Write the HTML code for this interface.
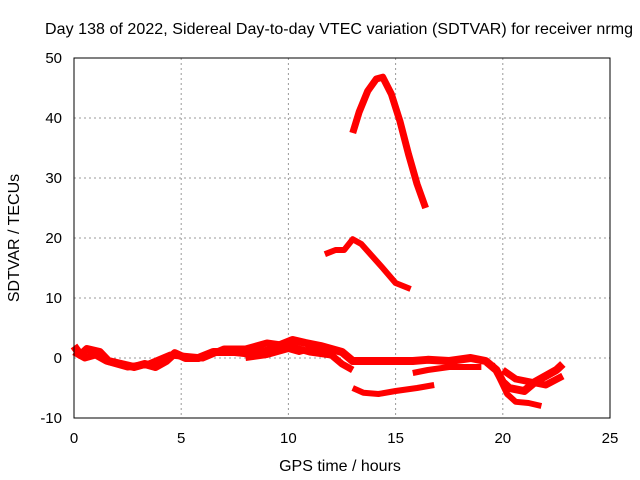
<!DOCTYPE html>
<html><head><meta charset="utf-8"><style>
body{margin:0;background:#fff}
svg{display:block;font-family:"Liberation Sans",sans-serif;font-size:15px}
</style></head><body>
<svg id="c" width="640" height="480">
<text x="339" y="34" text-anchor="middle" font-size="16" textLength="588">Day 138 of 2022, Sidereal Day-to-day VTEC variation (SDTVAR) for receiver nrmg</text>
<text x="340" y="471" text-anchor="middle" font-size="16">GPS time / hours</text>
<text transform="translate(19,238) rotate(-90)" text-anchor="middle" font-size="16">SDTVAR / TECUs</text>
<g id="grid"></g><g id="series"></g>
<rect x="74" y="58" width="536" height="360" fill="none" stroke="#000" stroke-width="1"/>
</svg>
<script>
const xTicks=[0,5,10,15,20,25];
const yTicks=[-10,0,10,20,30,40,50];
const arcHours=[13.0,13.3,13.7,14.1,14.4,14.8,15.2,15.6,16.0,16.4];
const arcVals=[37.5,41,44.5,46.5,46.8,44,39.5,34,29,25];
const midHours=[11.7,12.2,12.6,13.0,13.4,13.9,14.4,15.0,15.7];
const midVals=[17.3,18,18,19.8,19,17,15,12.5,11.5];
const mainHours=[0,0.3,0.6,1.2,1.6,2.2,2.8,3.3,3.8,4.3,4.7,5.2,5.8,6.5,7.5,8,9,9.5,10.2,10.8,11.5,12.5,13,14,15,15.8,16.5,17.5,18.5,19.2,19.7,20,20.3,21,21.5,22,22.5,22.8];
const mainVals=[2,0.5,1.5,1,-0.5,-1,-1.5,-1,-1.5,-0.5,0.8,0,0,1,1,0.8,1.2,2,3,2.5,2,1,-0.5,-0.5,-0.5,-0.5,-0.3,-0.5,0,-0.5,-2,-4,-5,-5.5,-4,-3,-2,-1];
const main2Hours=[0,0.5,1,1.5,2.5,3.5,4.5,6,7,8,9,10,11,12,12.5,13];
const main2Vals=[1,0,0.5,-0.5,-1.5,-1,0.5,0,1.5,1.5,2.5,2,1,0.5,-1,-2];
const main3Hours=[8,9,10,10.5,11,11.5];
const main3Vals=[0,0.5,1.5,1,1.5,1];
const lowAHours=[15.8,16.5,17.5,18.5,19];
const lowAVals=[-2.5,-2,-1.5,-1.5,-1.5];
const lowBHours=[13,13.5,14.2,15,16,16.8];
const lowBVals=[-5,-5.8,-6,-5.5,-5,-4.5];
const tailAHours=[19.5,19.8,20.2,20.6,21.2,21.8];
const tailAVals=[-1,-3,-6,-7.3,-7.5,-8];
const tailBHours=[20,20.6,21.3,22,22.8];
const tailBVals=[-2,-3.5,-4,-4.5,-3];
const X=h=>74+h*536/25, Y=v=>358-v*6;
const NS="http://www.w3.org/2000/svg";
const g=document.getElementById('grid'), s=document.getElementById('series');
xTicks.forEach(t=>{
 const l=document.createElementNS(NS,'line');
 
 
 l.setAttribute('x1',X(t));l.setAttribute('x2',X(t));l.setAttribute('y1',58);l.setAttribute('y2',418);
 l.setAttribute('stroke','#999');l.setAttribute('stroke-dasharray','2,3');g.appendChild(l);
 const tx=document.createElementNS(NS,'text');
 
 
 tx.setAttribute('x',X(t));tx.setAttribute('y',443);tx.setAttribute('text-anchor','middle');tx.textContent=t;g.appendChild(tx);
});
yTicks.forEach(t=>{
 const l=document.createElementNS(NS,'line');
 
 
 l.setAttribute('x1',74);l.setAttribute('x2',610);l.setAttribute('y1',Y(t));l.setAttribute('y2',Y(t));
 l.setAttribute('stroke','#999');l.setAttribute('stroke-dasharray','2,3');g.appendChild(l);
 const tx=document.createElementNS(NS,'text');
 
 
 tx.setAttribute('x',62);tx.setAttribute('y',Y(t)+5);tx.setAttribute('text-anchor','end');tx.textContent=t;g.appendChild(tx);
});
function line(hs,vs,w){
 const p=document.createElementNS(NS,'polyline');
 
 
 p.setAttribute('points',hs.map((h,i)=>X(h)+','+Y(vs[i])).join(' '));
 p.setAttribute('fill','none');p.setAttribute('stroke','#f00');p.setAttribute('stroke-width',w);
 p.setAttribute('stroke-linejoin','round');s.appendChild(p);
}
line(arcHours,arcVals,7);line(midHours,midVals,6);line(mainHours,mainVals,8);
line(main2Hours,main2Vals,7);line(main3Hours,main3Vals,6);line(lowAHours,lowAVals,6);
line(lowBHours,lowBVals,6);line(tailAHours,tailAVals,6);line(tailBHours,tailBVals,7);
</script>
</body></html>
